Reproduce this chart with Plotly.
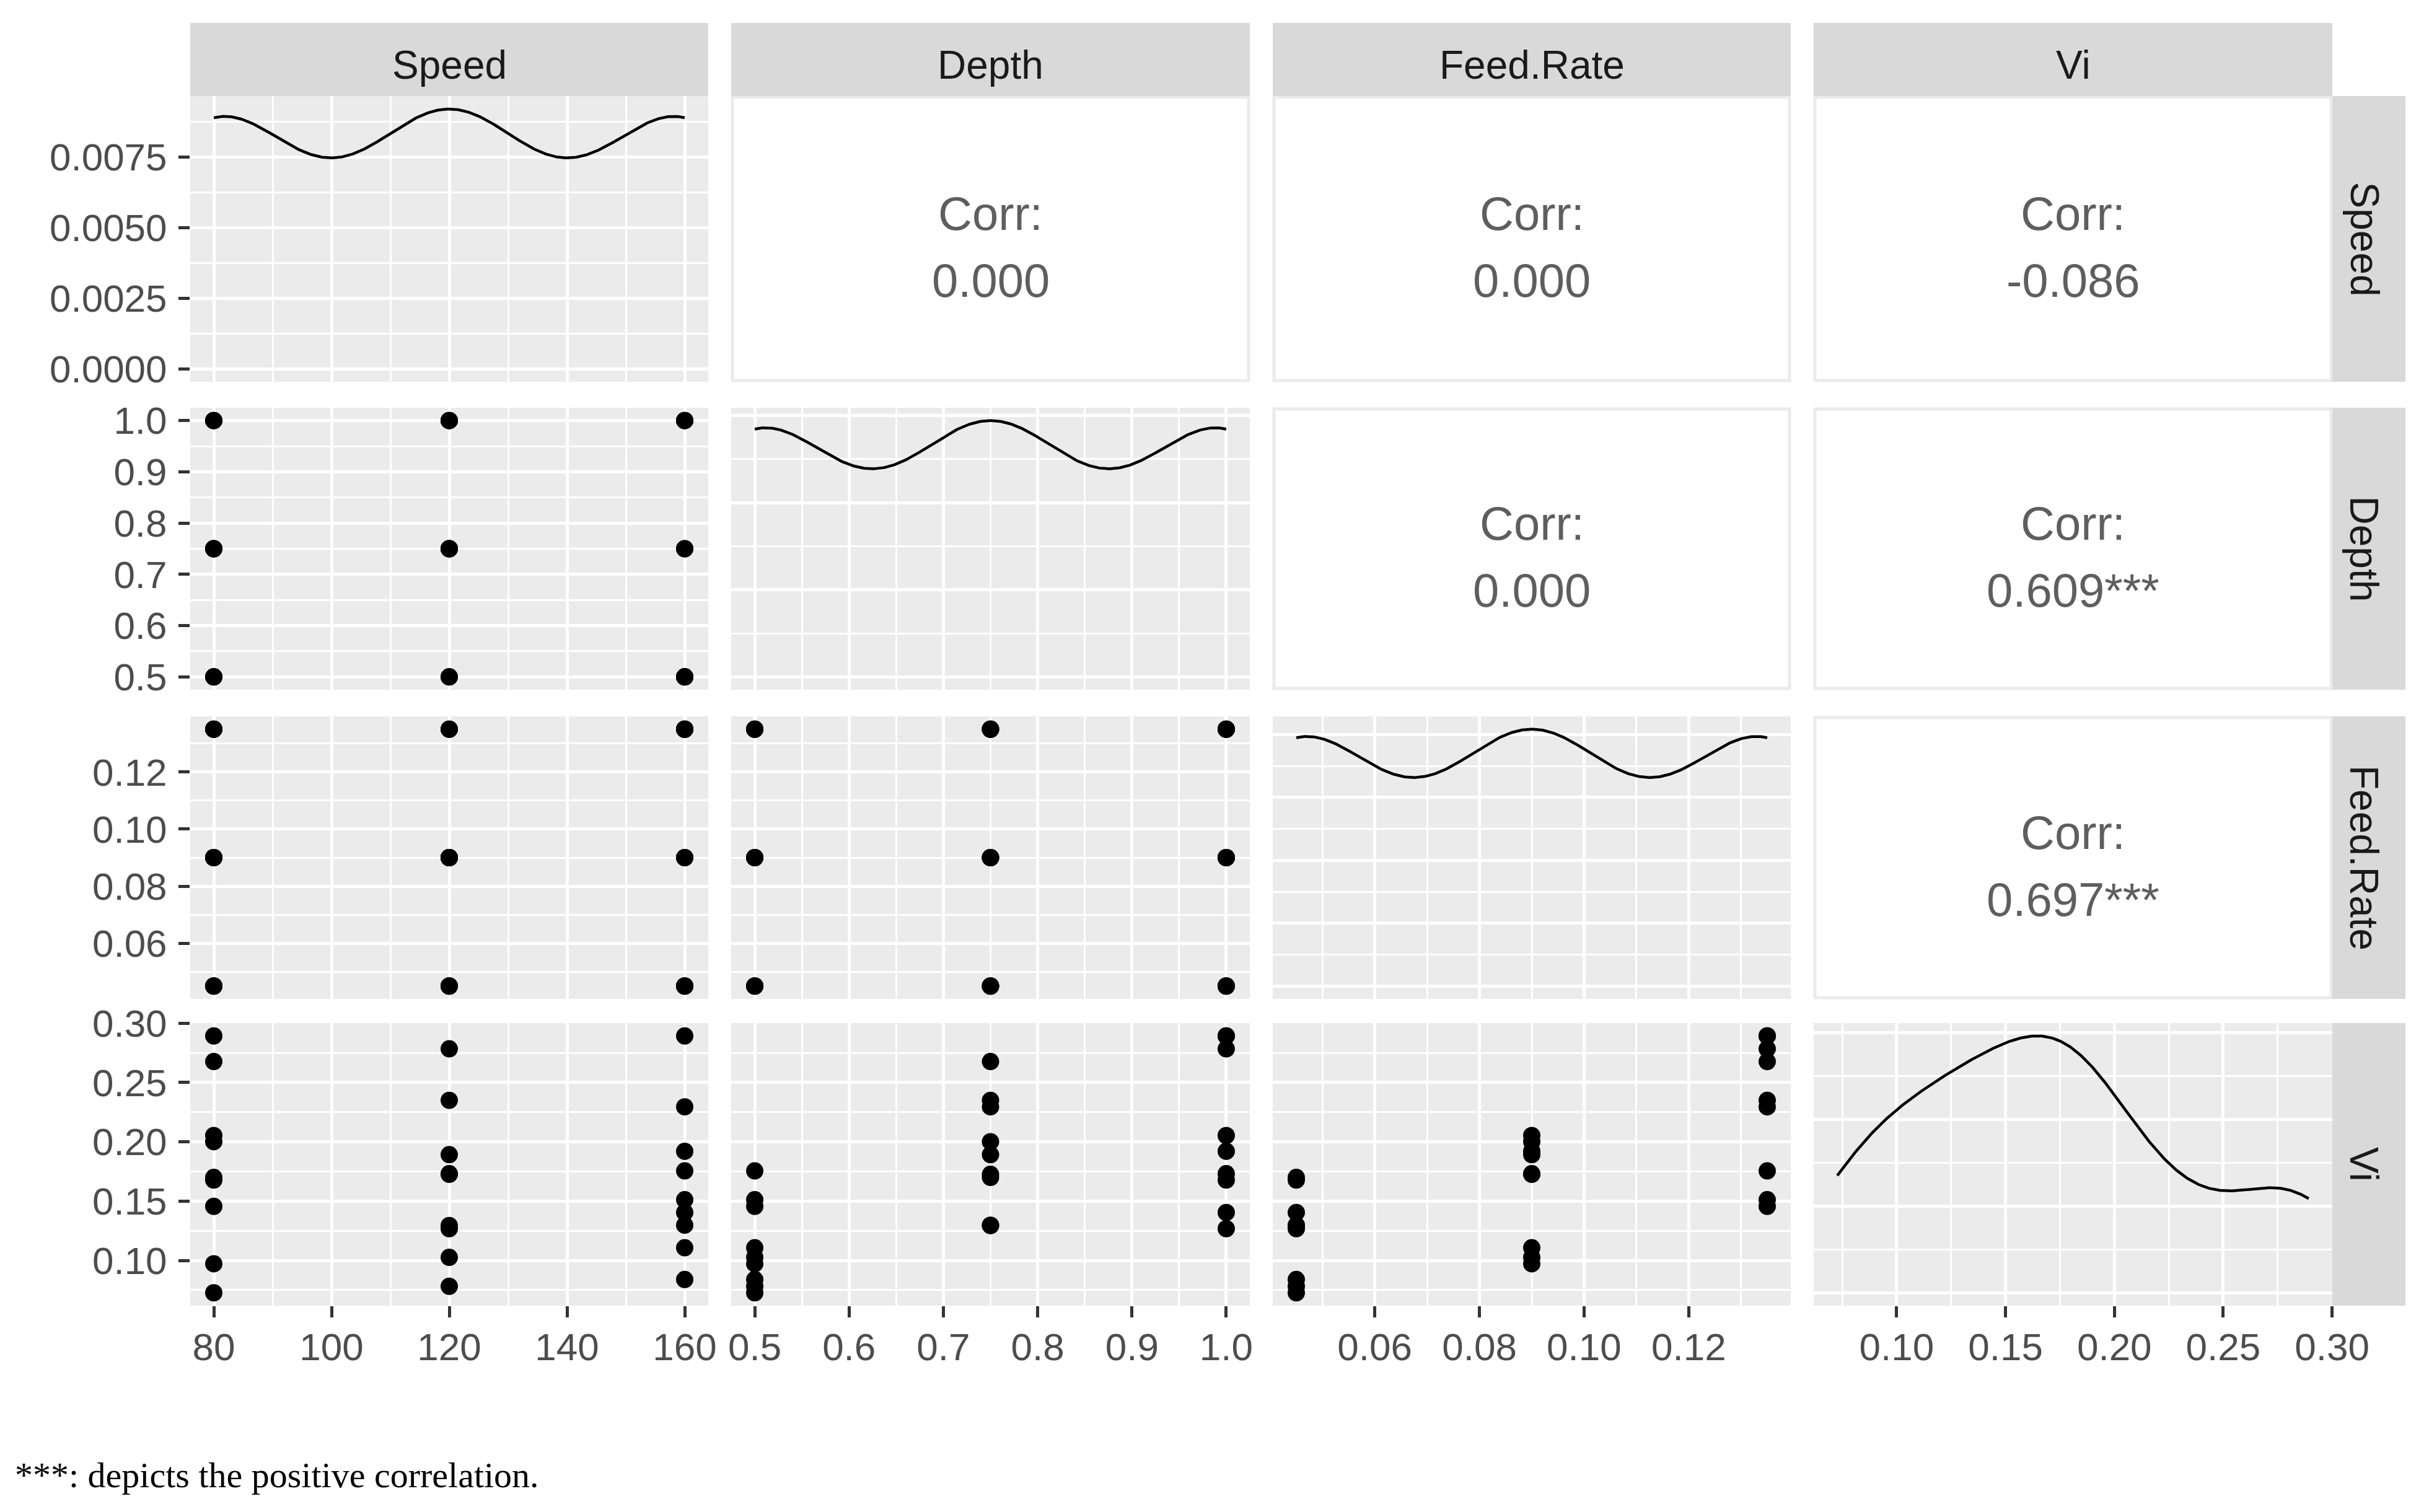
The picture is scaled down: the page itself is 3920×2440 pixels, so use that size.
import numpy as np
import plotly.graph_objects as go

# ---------------- data (27 runs) ----------------
speed = [80, 120, 160, 80, 120, 160, 80, 120, 160,
         80, 120, 160, 80, 120, 120, 80, 120, 160,
         80, 160, 160, 80, 120, 160, 80, 120, 160]
depth = [1.0, 1.0, 1.0, 1.0, 1.0, 1.0, 1.0, 1.0, 1.0,
         0.75, 0.75, 0.75, 0.75, 0.75, 0.75, 0.75, 0.75, 0.75,
         0.5, 0.5, 0.5, 0.5, 0.5, 0.5, 0.5, 0.5, 0.5]
feed = [0.135, 0.135, 0.135, 0.09, 0.09, 0.09, 0.045, 0.045, 0.045,
        0.135, 0.135, 0.135, 0.09, 0.09, 0.09, 0.045, 0.045, 0.045,
        0.135, 0.135, 0.135, 0.09, 0.09, 0.09, 0.045, 0.045, 0.045]
vi = [0.2893, 0.2784, 0.2893, 0.2053, 0.1731, 0.1920, 0.1678, 0.1268, 0.1404,
      0.2677, 0.2350, 0.2295, 0.2001, 0.1892, 0.1726, 0.1700, 0.1294, 0.1297,
      0.1456, 0.1512, 0.1755, 0.0972, 0.1026, 0.1107, 0.0727, 0.0782, 0.0839]

var_names = ["Speed", "Depth", "Feed.Rate", "Vi"]
corr_labels = {(0, 1): "0.000", (0, 2): "0.000", (0, 3): "-0.086",
               (1, 2): "0.000", (1, 3): "0.609***", (2, 3): "0.697***"}

speed_ticks = [80, 100, 120, 140, 160]
speed_ticklabels = ["80", "100", "120", "140", "160"]
depth_ticks = [0.5, 0.6, 0.7, 0.8, 0.9, 1.0]
depth_ticklabels = ["0.5", "0.6", "0.7", "0.8", "0.9", "1.0"]
feed_ticks = [0.06, 0.08, 0.10, 0.12]
feed_ticklabels = ["0.06", "0.08", "0.10", "0.12"]
vi_ticks = [0.10, 0.15, 0.20, 0.25, 0.30]
vi_ticklabels = ["0.10", "0.15", "0.20", "0.25", "0.30"]
dens_speed_ticks = [0.0, 0.0025, 0.005, 0.0075]
dens_speed_ticklabels = ["0.0000", "0.0025", "0.0050", "0.0075"]
dens_depth_ticks = [0.0, 0.5, 1.0, 1.5]
dens_feed_ticks = [0, 2, 4, 6, 8]
dens_vi_ticks = [0, 2, 4, 6]
caption = "***: depicts the positive correlation."

# ---------------- helpers ----------------
data = [np.array(speed, float), np.array(depth, float),
        np.array(feed, float), np.array(vi, float)]
ticks = [speed_ticks, depth_ticks, feed_ticks, vi_ticks]
ticklabels = [speed_ticklabels, depth_ticklabels, feed_ticklabels, vi_ticklabels]
dens_ticks = [dens_speed_ticks, dens_depth_ticks, dens_feed_ticks, dens_vi_ticks]


def minor_of(tv):
    step = tv[1] - tv[0]
    return [tv[0] - step / 2] + [t + step / 2 for t in tv]


def kde(x):
    n = len(x)
    sd = x.std(ddof=1)
    q75, q25 = np.percentile(x, [75, 25])
    lo = min(sd, (q75 - q25) / 1.34)
    bw = 0.9 * lo * n ** -0.2
    g = np.linspace(x.min(), x.max(), 512)
    d = np.exp(-0.5 * ((g[:, None] - x[None, :]) / bw) ** 2).sum(1) / (n * bw * np.sqrt(2 * np.pi))
    return g, d


def exp_range(x):
    lo, hi = float(np.min(x)), float(np.max(x))
    s = hi - lo
    return [lo - 0.05 * s, hi + 0.05 * s]


W, H = 3920, 2440
OFF = 8  # page body margin compensation
col_x = [(307, 1143), (1180, 2017), (2054, 2890), (2927, 3764)]
row_y = [(155, 616), (658, 1113), (1156, 1612), (1651, 2107)]
strip_top = (37, 155)
strip_right = (3764, 3882)


def px(x):
    return (x - OFF) / W


def py(y):
    return 1 - (y - OFF) / H


TICK_FONT = dict(family="Liberation Sans, Arial, sans-serif", size=62, color="#4D4D4D")
GRIDW, MINW = 5, 2.6
BG = "#EBEBEB"

fig = go.Figure()
layout = dict(width=W, height=H, margin=dict(l=0, r=0, t=0, b=0, pad=0, autoexpand=False),
              paper_bgcolor="white", plot_bgcolor=BG, showlegend=False)
shapes, annots = [], []
CORR_FONT = dict(family="Liberation Sans, Arial, sans-serif", size=76, color="#5E5E5E")

for r in range(4):
    for c in range(4):
        if r < c:
            x0, x1 = col_x[c]
            y0, y1 = row_y[r]
            shapes.append(dict(type="rect", xref="paper", yref="paper",
                               x0=px(x0 + 2), x1=px(x1 - 2), y0=py(y1 - 2), y1=py(y0 + 2),
                               fillcolor="white", line=dict(color="#EBEBEB", width=5), layer="below"))
            xc = (x0 + x1) / 2
            yc = (y0 + y1) / 2
            annots.append(dict(text="Corr:", xref="paper", yref="paper", x=px(xc), y=py(yc - 41),
                               showarrow=False, xanchor="center", yanchor="middle", font=CORR_FONT))
            annots.append(dict(text=corr_labels[(r, c)], xref="paper", yref="paper", x=px(xc), y=py(yc + 67),
                               showarrow=False, xanchor="center", yanchor="middle", font=CORR_FONT))
            continue
        n = r * 4 + c + 1
        xk = "xaxis" if n == 1 else f"xaxis{n}"
        yk = "yaxis" if n == 1 else f"yaxis{n}"
        xr = "x" if n == 1 else f"x{n}"
        yr = "y" if n == 1 else f"y{n}"
        x0, x1 = col_x[c]
        y0, y1 = row_y[r]
        show_x = (r == 3)
        show_y = (c == 0)
        layout[xk] = dict(domain=[px(x0), px(x1)], anchor=yr, range=exp_range(data[c]),
                          tickmode="array", tickvals=ticks[c], ticktext=ticklabels[c],
                          showticklabels=show_x, ticks="outside" if show_x else "",
                          ticklen=18, tickwidth=5, tickcolor="#333333", tickfont=TICK_FONT,
                          ticklabelstandoff=-5, automargin=False,
                          showgrid=True, gridcolor="white", gridwidth=GRIDW, zeroline=False,
                          showline=False, fixedrange=True,
                          minor=dict(tickmode="array", tickvals=minor_of(ticks[c]), showgrid=True,
                                     gridcolor="white", gridwidth=MINW, ticks=""))
        if r == c:
            g, d = kde(data[c])
            m = float(d.max())
            yrange = [-0.05 * m, 1.05 * m]
            ytv = dens_ticks[c]
            ytt = dens_speed_ticklabels if c == 0 else [str(t) for t in ytv]
            fig.add_trace(go.Scatter(x=g, y=d, mode="lines", line=dict(color="black", width=4.5),
                                     xaxis=xr, yaxis=yr, hoverinfo="skip"))
        else:
            yrange = exp_range(data[r])
            ytv = ticks[r]
            ytt = ticklabels[r]
            fig.add_trace(go.Scatter(x=data[c], y=data[r], mode="markers",
                                     marker=dict(color="black", size=28, line=dict(width=0)),
                                     xaxis=xr, yaxis=yr, hoverinfo="skip"))
        layout[yk] = dict(domain=[py(y1), py(y0)], anchor=xr, range=yrange,
                          tickmode="array", tickvals=ytv, ticktext=ytt,
                          showticklabels=show_y, ticks="outside" if show_y else "",
                          ticklen=18, tickwidth=5, tickcolor="#333333", tickfont=TICK_FONT,
                          ticklabelstandoff=6, automargin=False,
                          showgrid=True, gridcolor="white", gridwidth=GRIDW, zeroline=False,
                          showline=False, fixedrange=True,
                          minor=dict(tickmode="array", tickvals=minor_of(ytv), showgrid=True,
                                     gridcolor="white", gridwidth=MINW, ticks=""))

STRIP_FONT = dict(family="Liberation Sans, Arial, sans-serif", size=64, color="#1A1A1A")
for c in range(4):
    x0, x1 = col_x[c]
    shapes.append(dict(type="rect", xref="paper", yref="paper", x0=px(x0), x1=px(x1),
                       y0=py(strip_top[1]), y1=py(strip_top[0]), fillcolor="#D9D9D9",
                       line=dict(width=0), layer="below"))
    annots.append(dict(text=var_names[c], xref="paper", yref="paper", x=px((x0 + x1) / 2),
                       y=py((strip_top[0] + strip_top[1]) / 2 + 9), showarrow=False,
                       xanchor="center", yanchor="middle", font=STRIP_FONT))
for r in range(4):
    y0, y1 = row_y[r]
    shapes.append(dict(type="rect", xref="paper", yref="paper", x0=px(strip_right[0]), x1=px(strip_right[1]),
                       y0=py(y1), y1=py(y0), fillcolor="#D9D9D9", line=dict(width=0), layer="below"))
    annots.append(dict(text=var_names[r], xref="paper", yref="paper",
                       x=px((strip_right[0] + strip_right[1]) / 2 - 8), y=py((y0 + y1) / 2),
                       showarrow=False, xanchor="center", yanchor="middle", textangle=90, font=STRIP_FONT))

annots.append(dict(text=caption, xref="paper", yref="paper", x=px(22), y=py(2380), showarrow=False,
                   xanchor="left", yanchor="middle",
                   font=dict(family="Liberation Serif, Times New Roman, serif", size=58, color="black")))

layout["shapes"] = shapes
layout["annotations"] = annots
fig.update_layout(**layout)
fig.write_html("out.html")
